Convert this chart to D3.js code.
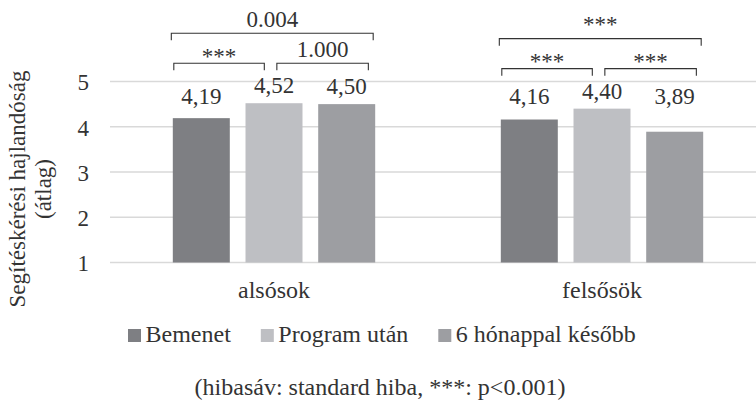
<!DOCTYPE html>
<html>
<head>
<meta charset="utf-8">
<script src="https://cdn.jsdelivr.net/npm/d3@7"></script>
<style>
  html, body { margin: 0; padding: 0; background: #fff; }
  svg { display: block; }
  text { font-family: "Liberation Serif", "Times New Roman", serif; fill: #333; }
</style>
</head>
<body>
<svg id="chart" width="756" height="405"></svg>
<script>
// ---- data ----
const categories = ["alsósok", "felsősök"];
const series = ["Bemenet", "Program után", "6 hónappal később"];
const bemenet = [4.19, 4.16];
const programUtan = [4.52, 4.40];
const honappal6 = [4.50, 3.89];
const yTicks = [1, 2, 3, 4, 5];
const yTitleLines = ["Segítéskérési hajlandóság", "(átlag)"];
const footnote = "(hibasáv: standard hiba, ***: p<0.001)";
// significance brackets
const bracketGroup = ["alsósok", "alsósok", "alsósok", "felsősök", "felsősök", "felsősök"];
const bracketFrom = [0, 0, 1, 0, 0, 1];
const bracketTo = [2, 1, 2, 2, 1, 2];
const bracketLabel = ["0.004", "***", "1.000", "***", "***", "***"];

const colors = ["#7e7f83", "#bebfc3", "#9d9ea2"];
const seriesValues = [bemenet, programUtan, honappal6];

const svg = d3.select("#chart");
svg.append("rect").attr("width", 756).attr("height", 405).attr("fill", "#fff");

const y = d3.scaleLinear().domain([1, 5]).range([262.5, 81.5]);
const x0 = d3.scaleBand().domain(categories).range([110, 766]).padding(0);
const x1 = d3.scaleBand().domain(series).range([0, x0.bandwidth()])
  .paddingInner(0.216).paddingOuter(0.864);
const bw = x1.bandwidth();

// gridlines
svg.append("g").selectAll("line").data(yTicks).join("line")
  .attr("x1", 110).attr("x2", 756)
  .attr("y1", d => y(d)).attr("y2", d => y(d))
  .attr("stroke", "#d9d9d9").attr("stroke-width", 1.3);

// y axis labels
const yAxis = d3.axisLeft(y).tickValues(yTicks).tickSize(0).tickPadding(0).tickFormat(d3.format("d"));
const gy = svg.append("g").attr("transform", "translate(89,0)").call(yAxis);
gy.select(".domain").remove();
gy.selectAll("text").attr("font-size", 23).attr("font-family", "Liberation Serif").attr("fill", "#333").attr("dy", "0.36em");

// y title
const yt = svg.append("text").attr("transform", "translate(0,189) rotate(-90)")
  .attr("text-anchor", "middle").attr("font-size", 23);
yt.append("tspan").attr("x", 0).attr("y", 25).text(yTitleLines[0]);
yt.append("tspan").attr("x", 0).attr("y", 51).text(yTitleLines[1]);

// bars
const rows = [];
categories.forEach((c, ci) => series.forEach((s, si) => rows.push({c, s, si, v: seriesValues[si][ci]})));
svg.append("g").selectAll("rect").data(rows).join("rect")
  .attr("x", d => x0(d.c) + x1(d.s))
  .attr("width", bw)
  .attr("y", d => y(d.v))
  .attr("height", d => y(1) - y(d.v))
  .attr("fill", d => colors[d.si]);

// value labels
const fmt = v => d3.format(".2f")(v).replace(".", ",");
svg.append("g").selectAll("text").data(rows).join("text")
  .attr("x", d => x0(d.c) + x1(d.s) + bw / 2)
  .attr("y", d => Math.min(y(d.v) - 10, 104))
  .attr("text-anchor", "middle").attr("font-size", 23)
  .text(d => fmt(d.v));

// category labels
svg.append("g").selectAll("text").data(categories).join("text")
  .attr("x", d => x0(d) + x0.bandwidth() / 2)
  .attr("y", 298)
  .attr("text-anchor", "middle").attr("font-size", 24)
  .text(d => d);

// brackets
const bg = svg.append("g");
bracketLabel.forEach((lab, i) => {
  const c = bracketGroup[i];
  const ci = categories.indexOf(c);
  const gmax = d3.max(seriesValues, arr => arr[ci]);
  const a = bracketFrom[i], b = bracketTo[i];
  const left = k => x0(c) + x1(series[k]);
  const outer = (a === 0 && b === 2);
  let xs, xe;
  if (outer) { xs = left(0) - 1.5; xe = left(2) + bw - 2; }
  else if (a === 0) { xs = left(0) + 1; xe = left(1) + 0.33 * bw; }
  else { xs = left(1) + 0.55 * bw; xe = left(2) + 0.88 * bw; }
  const by = y(gmax) - (outer ? 70 : 40);
  bg.append("path")
    .attr("d", `M${xs},${by + 7}V${by}H${xe}V${by + 7}`)
    .attr("fill", "none").attr("stroke", "#333").attr("stroke-width", 1.1);
  const isStar = lab === "***";
  bg.append("text")
    .attr("x", (xs + xe) / 2)
    .attr("y", (isStar && !outer) ? by + 0.5 : by - 6.5)
    .attr("text-anchor", "middle").attr("font-size", 23)
    .attr("fill", isStar ? "#555" : "#333")
    .text(lab);
});

// legend
const lg = svg.append("g");
let lx = 128;
series.forEach((s, i) => {
  lg.append("rect").attr("x", lx).attr("y", 329).attr("width", 13).attr("height", 13).attr("fill", colors[i]);
  const t = lg.append("text").attr("x", lx + 17.5).attr("y", 342).attr("font-size", 24).text(s);
  lx += 17.5 + t.node().getComputedTextLength() + 30;
});

// footnote
svg.append("text").attr("x", 380).attr("y", 395).attr("text-anchor", "middle")
  .attr("font-size", 24).text(footnote);
</script>
</body>
</html>
